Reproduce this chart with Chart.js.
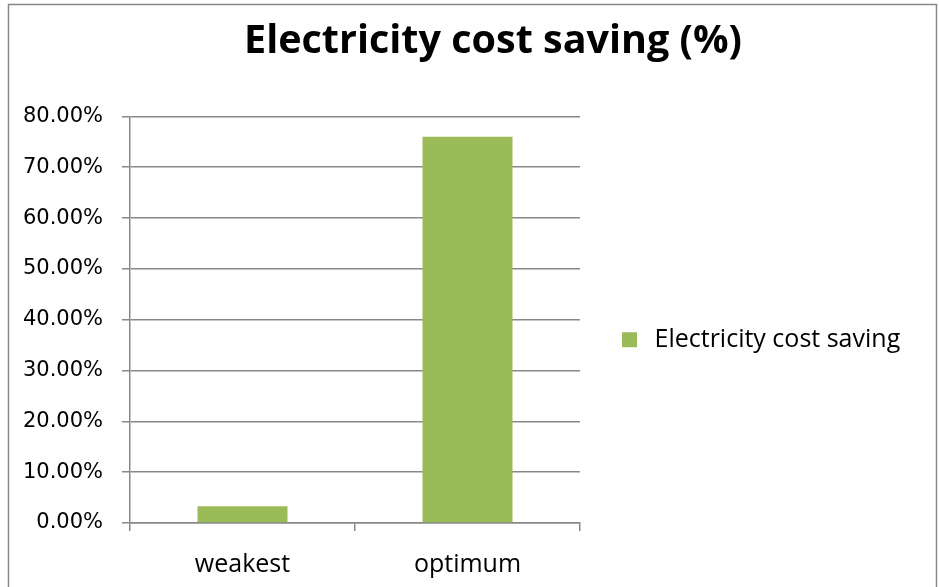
<!DOCTYPE html>
<html>
<head>
<meta charset="utf-8">
<script src="https://cdn.jsdelivr.net/npm/chart.js@4"></script>
<style>
  html, body { margin: 0; padding: 0; background: #fff; }
  #wrap { width: 939px; height: 587px; }
</style>
</head>
<body>
<div id="wrap"><canvas id="savingChart" width="939" height="587"></canvas></div>
<script>
/* global Chart */

// data
const categories = ['weakest', 'optimum'];
const savingValues = [3.3, 76.0];          // percent
const seriesName = 'Electricity cost saving';
const yTicks = [0, 10, 20, 30, 40, 50, 60, 70, 80];

const gridGrey = '#888888';
const barGreen = '#9BBB59';
const legendWidth = 359;   // room on the right for the legend
const titleShift = 47;     // the title sits a bit right of the canvas centre

// draws the white background and the grey frame round the whole chart
const framePlugin = {
    id: 'frame',
    beforeDraw(chart) {
        const ctx = chart.ctx;
        ctx.save();
        ctx.fillStyle = '#fff';
        ctx.fillRect(0, 0, chart.width, chart.height);
        ctx.strokeStyle = gridGrey;
        ctx.lineWidth = 1.5;
        ctx.strokeRect(8.5, 4.5, 928, 700);
        ctx.restore();
    }
};

// chart.js caps a side legend at a quarter of the width, this widens it,
// and moves the title box so its centre matches the original
const layoutTweaks = {
    id: 'layoutTweaks',
    beforeLayout(chart) {
        const legend = chart.legend;
        if (!legend || legend._widened) return;
        const fit = legend.fit;
        legend.fit = function () {
            fit.call(this);
            this.width = legendWidth;
        };
        legend._widened = true;
    },
    afterLayout(chart) {
        if (chart.titleBlock) chart.titleBlock.left = titleShift;
    }
};

const ctx = document.getElementById('savingChart').getContext('2d');
new Chart(ctx, {
    type: 'bar',
    data: {
        labels: categories,
        datasets: [{
            label: seriesName,
            data: savingValues,
            backgroundColor: barGreen,
            borderWidth: 0,
            barPercentage: 0.4,
            categoryPercentage: 1.0
        }]
    },
    options: {
        responsive: false,
        animation: false,
        layout: { padding: 0 },
        plugins: {
            title: {
                display: true,
                text: 'Electricity cost saving (%)',
                color: '#000',
                font: { family: "'Open Sans', sans-serif", size: 39.5, weight: 'bold' },
                padding: { top: 18, bottom: 51 }
            },
            legend: {
                display: true,
                position: 'right',
                fullSize: false,
                title: {
                    display: true,
                    text: ' ',
                    font: { size: 10 },
                    padding: { top: 28, bottom: 0 }
                },
                labels: {
                    color: '#000',
                    usePointStyle: true,
                    pointStyle: 'rect',
                    boxWidth: 25,
                    boxHeight: 15,
                    padding: 37,
                    font: { family: "'Open Sans', sans-serif", size: 25 }
                }
            },
            tooltip: { enabled: false }
        },
        scales: {
            x: {
                grid: {
                    display: true,
                    drawOnChartArea: false,
                    drawTicks: true,
                    tickLength: 8,
                    color: gridGrey,
                    lineWidth: 1.5
                },
                border: { color: gridGrey, width: 1.5 },
                ticks: {
                    color: '#000',
                    padding: 19,
                    font: { family: "'Open Sans', sans-serif", size: 25 }
                },
                afterFit(scale) { scale.height = 64; }
            },
            y: {
                min: 0,
                max: 80,
                afterBuildTicks(scale) {
                    scale.ticks = yTicks.map(v => ({ value: v }));
                },
                grid: {
                    color: gridGrey,
                    lineWidth: 1.5,
                    drawTicks: true,
                    tickLength: 8
                },
                border: { color: gridGrey, width: 1.5 },
                ticks: {
                    color: '#000',
                    padding: 19,
                    font: { family: "'DejaVu Sans', sans-serif", size: 21 },
                    callback: v => v.toFixed(2) + '%'
                },
                afterFit(scale) { scale.width = 130; }
            }
        }
    },
    plugins: [framePlugin, layoutTweaks]
});
</script>
</body>
</html>
